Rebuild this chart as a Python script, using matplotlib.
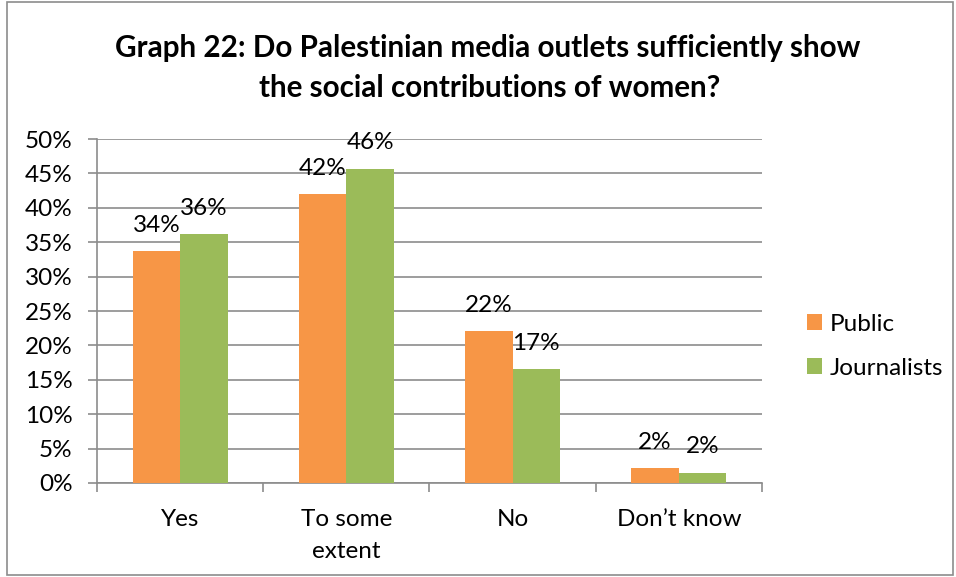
import matplotlib
matplotlib.use("Agg")
import matplotlib.pyplot as plt
import numpy as np
from matplotlib.patches import Rectangle

plt.rcParams['font.family'] = ['Lato', 'DejaVu Sans']

# Survey answers, share of respondents (%)
categories = ['Yes', 'To some\nextent', 'No', 'Don\u2019t know']
public = [33.7, 42.0, 22.1, 2.2]
journalists = [36.2, 45.7, 16.6, 1.5]
series_names = ['Public', 'Journalists']
colors = ['#F79646', '#9BBB59']
yticks = [0, 5, 10, 15, 20, 25, 30, 35, 40, 45, 50]

fig = plt.figure(figsize=(9.56, 5.77), dpi=100)
ax = fig.add_axes([0.1015, 0.163, 0.6955, 0.596])

x = np.arange(len(categories))
w = 0.285
bars_p = ax.bar(x - w / 2, public, w, color=colors[0], label=series_names[0], zorder=3)
bars_j = ax.bar(x + w / 2, journalists, w, color=colors[1], label=series_names[1], zorder=3)

# value labels above each bar
for bars, vals in [(bars_p, public), (bars_j, journalists)]:
    for b, v in zip(bars, vals):
        ax.annotate(f"{v:.0f}%", (b.get_x() + b.get_width() / 2, v),
                    xytext=(0, 18.5), textcoords='offset points',
                    ha='center', va='center', fontsize=17.5, color='black', zorder=4)

ax.set_xlim(-0.5, len(categories) - 0.5)
ax.set_ylim(0, 50)
ax.set_yticks(yticks)
ax.set_yticklabels([f"{t}%" for t in yticks], fontsize=17.5)
ax.yaxis.grid(True, color='#8c8c8c', linewidth=1.2, zorder=0)

# category labels between tick marks
ax.set_xticks(x)
ax.set_xticklabels(categories, fontsize=17.5, linespacing=1.6)
ax.tick_params(axis='x', length=0, pad=19)
ax.set_xticks(np.arange(len(categories) + 1) - 0.5, minor=True)
ax.tick_params(axis='x', which='minor', length=6.5, color='#8c8c8c', width=1.2)
ax.tick_params(axis='y', length=6.5, color='#8c8c8c', width=1.2, pad=11)

for side in ['top', 'right']:
    ax.spines[side].set_visible(False)
for side in ['left', 'bottom']:
    ax.spines[side].set_color('#8c8c8c')
    ax.spines[side].set_linewidth(1.2)

fig.text(0.51, 0.917, 'Graph 22: Do Palestinian media outlets sufficiently show',
         ha='center', va='center', fontsize=21.3, fontweight='bold')
fig.text(0.512, 0.848, 'the social contributions of women?',
         ha='center', va='center', fontsize=21.3, fontweight='bold')

leg = ax.legend(loc='center left', bbox_to_anchor=(1.035, 0.398), frameon=False,
                fontsize=17.5, handlelength=0.6, handleheight=0.6,
                handletextpad=0.35, labelspacing=0.95)

# outer chart border
fig.patches.append(Rectangle((0.007, 0.003), 0.99, 0.994, transform=fig.transFigure,
                             fill=False, edgecolor='#8c8c8c', linewidth=1.2))

fig.savefig('out.png', dpi=100)
